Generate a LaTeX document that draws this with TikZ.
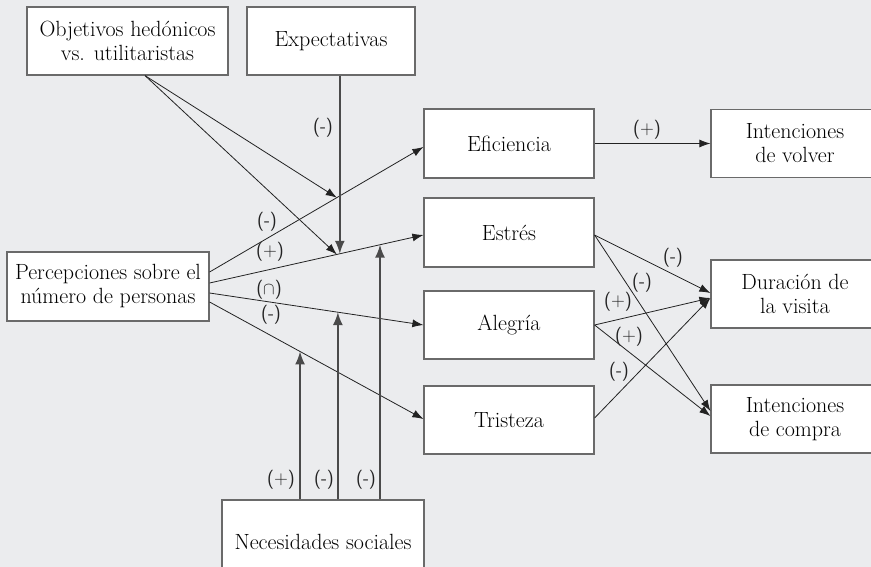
\documentclass[tikz,border=0pt]{standalone}
\usepackage{fontspec}
\usetikzlibrary{arrows.meta}
\definecolor{bg}{HTML}{EBECEE}
\definecolor{edge}{HTML}{6A6A6A}
\definecolor{ink}{HTML}{222222}
\definecolor{modline}{HTML}{4A4A4A}
\begin{document}
\begin{tikzpicture}[x=1pt,y=-1pt,
  box/.style={draw=edge, line width=1.2pt, fill=white, inner sep=0pt,
    align=center, font=\fontsize{22}{24}\selectfont},
  arr/.style={ink, line width=0.8pt, -{Latex[length=11pt,width=8pt]}},
  mod/.style={modline, line width=1.6pt, -{Latex[length=13pt,width=10pt]}},
  lbl/.style={inner sep=0pt, text=ink, font=\sffamily\fontsize{19}{19}\selectfont}]
\clip (0,0) rectangle (871,567);
\fill[bg] (0,0) rectangle (871,567);

% boxes
\node[box, minimum width=201pt, minimum height=68pt] (obj) at (127.5,41) {Objetivos hedónicos\\vs. utilitaristas};
\node[box, minimum width=168pt, minimum height=68pt] (expect) at (331,41) {Expectativas};
\node[box, minimum width=202pt, minimum height=69pt] (perc) at (108,286.5) {Percepciones sobre el\\número de personas};
\node[box, minimum width=170pt, minimum height=69pt] (effi) at (509,143.5) {Eficiencia};
\node[box, minimum width=170pt, minimum height=69pt] (estres) at (509,232.5) {Estrés};
\node[box, minimum width=170pt, minimum height=68pt] (alegria) at (509,325) {Alegría};
\node[box, minimum width=170pt, minimum height=68pt] (tristeza) at (509,420) {Tristeza};
\node[box, minimum width=168pt, minimum height=68pt] (volver) at (795,143.5) {Intenciones\\de volver};
\node[box, minimum width=168pt, minimum height=68pt] (durac) at (795,294) {Duración de\\la visita};
\node[box, minimum width=168pt, minimum height=68pt] (compra) at (795,419) {Intenciones\\de compra};
\node[box, minimum width=202pt, minimum height=84pt] (nec) at (323,542) {Necesidades sociales};

% paths from perceptions
\draw[arr] ([yshift=14.5]perc.east) -- coordinate[pos=0.595] (effmod) ([yshift=-3.5]effi.west);
\draw[arr] ([yshift=3.5]perc.east) -- coordinate[pos=0.595] (objB) coordinate[pos=0.609] (expB) coordinate[pos=0.797] (necC) ([yshift=-2.5]estres.west);
\draw[arr] ([yshift=-6.5]perc.east) -- coordinate[pos=0.6] (necB) (alegria.west);
\draw[arr] ([yshift=-15.5]perc.east) -- coordinate[pos=0.423] (necA) ([yshift=1]tristeza.west);

% moderators
\coordinate (objsrc) at ([xshift=17.5]obj.south);
\draw[arr] (objsrc) -- (effmod);
\draw[arr] (objsrc) -- (objB);
\draw[mod] (expB |- expect.south) -- (expB);
\draw[mod] (necA |- nec.north) -- (necA);
\draw[mod] (necB |- nec.north) -- (necB);
\draw[mod] (necC |- nec.north) -- (necC);

% outcomes
\draw[arr] (effi.east) -- (volver.west);
\draw[arr] ([yshift=-2.5]estres.east) -- ([yshift=1]durac.west);
\draw[arr] ([yshift=-2.5]estres.east) -- ([yshift=8]compra.west);
\draw[arr] (alegria.east) -- ([yshift=-4]durac.west);
\draw[arr] (alegria.east) -- ([yshift=3]compra.west);
\draw[arr] ([yshift=2]tristeza.east) -- ([yshift=-4]durac.west);

% signs
\node[lbl] (l1) at (323,128) {(-)};
\node[lbl] (l2) at (647,130) {(+)};
\node[lbl] (l3) at (267,222) {(-)};
\node[lbl] (l4) at (270,252) {(+)};
\node[lbl] (l5) at (269,290) {($\cap$)};
\node[lbl] (l6) at (271,315) {(-)};
\node[lbl] (l7) at (281,480) {(+)};
\node[lbl] (l8) at (324,480) {(-)};
\node[lbl] (l9) at (366,480) {(-)};
\node[lbl] (l10) at (673,258) {(-)};
\node[lbl] (l11) at (642,283) {(-)};
\node[lbl] (l12) at (618,302) {(+)};
\node[lbl] (l13) at (629,337) {(+)};
\node[lbl] (l14) at (619,372) {(-)};
\end{tikzpicture}
\end{document}
